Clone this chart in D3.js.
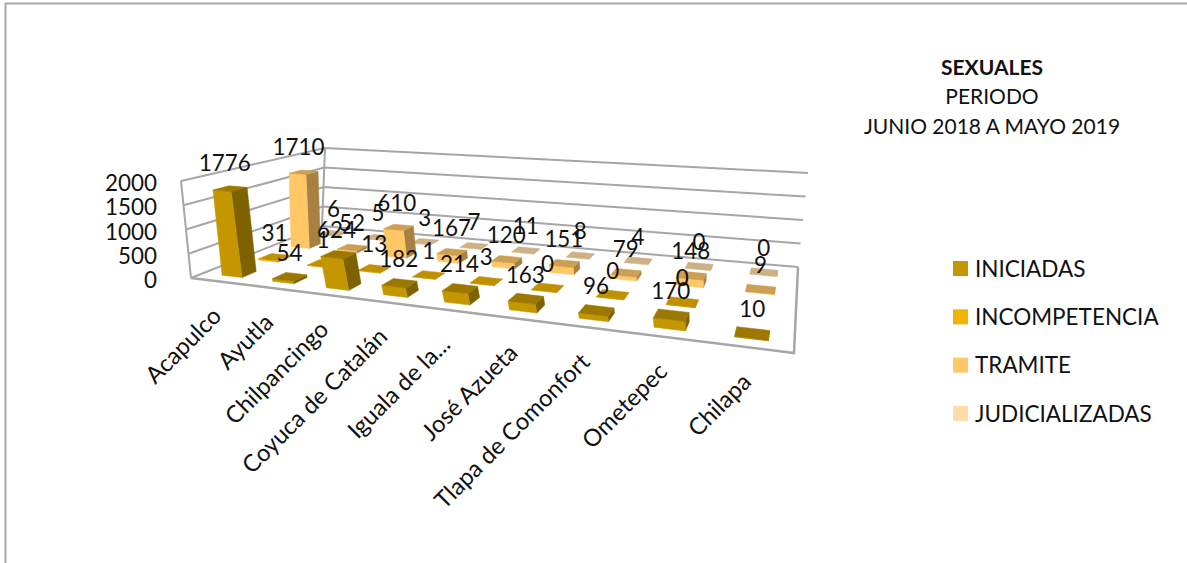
<!DOCTYPE html>
<html><head><meta charset="utf-8">
<script src="https://cdn.jsdelivr.net/npm/d3@7/dist/d3.min.js"></script>
<style>html,body{margin:0;padding:0;background:#fff}svg{display:block}text{font-family:Lato,"Open Sans",sans-serif;fill:#111}</style>
</head><body><svg id="c" width="1187" height="563"></svg>
<script>
const categories=["Acapulco","Ayutla","Chilpancingo","Coyuca de Catalán","Iguala de la...","José Azueta","Tlapa de Comonfort","Ometepec","Chilapa"];
const seriesNames=["INICIADAS","INCOMPETENCIA","TRAMITE","JUDICIALIZADAS"];
const iniciadas=[1776,54,624,182,214,163,96,170,10];
const incompetencia=[31,1,13,1,3,0,0,0,null];
const tramite=[1710,52,610,167,120,151,79,148,9];
const judicializadas=[6,5,3,7,11,8,4,0,0];
const seriesValues=[iniciadas,incompetencia,tramite,judicializadas];
const colors=["#C49600","#F0B400","#FFC766","#FFDCA8"];
const titleLines=["SEXUALES","PERIODO","JUNIO 2018 A MAYO 2019"];

const svg=d3.select("#c");
function homography(q){const [[x0,y0],[x1,y1],[x2,y2],[x3,y3]]=q;
 const dx1=x1-x2,dx2=x3-x2,sx=x0-x1+x2-x3,dy1=y1-y2,dy2=y3-y2,sy=y0-y1+y2-y3,det=dx1*dy2-dx2*dy1;
 const g=(sx*dy2-dx2*sy)/det,h=(dx1*sy-sx*dy1)/det;
 const a=x1-x0+g*x1,b=x3-x0+h*x3,d=y1-y0+g*y1,e=y3-y0+h*y3;
 return (u,v)=>{const w=g*u+h*v+1;return [(a*u+b*v+x0)/w,(d*u+e*v+y0)/w];};}
const floorH=homography([[191,278],[794,353],[798,267],[322,226]]);
const topH=homography([[181,181],[811,238],[808,173],[325,148]]);
const P=(u,v,z)=>{const f=floorH(u,v),t=topH(u,v);return [f[0]+(t[0]-f[0])*z,f[1]+(t[1]-f[1])*z];};

const uScale=d3.scaleBand().domain(categories).range([0.009,1]).paddingInner(0.6).paddingOuter(0.3);
const vScale=d3.scaleBand().domain(seriesNames).range([0,1]).paddingInner(0.62).paddingOuter(0.31);
const zScale=d3.scaleLinear().domain([0,2000]).range([0,1]);
const line=d3.line();
const shade=(c,k)=>{const r=d3.rgb(c);return d3.rgb(r.r*k,r.g*k,r.b*k).formatHex();};

// chart frame
svg.append("path").attr("d","M5.5,563V3.5H1187").attr("fill","none").attr("stroke","#a9a9a9").attr("stroke-width",2);

// walls
const ticks=zScale.ticks(4);
const gridCol="#a6a6a6";
svg.append("g").selectAll("path").data(ticks).join("path")
 .attr("d",t=>{const z=zScale(t);return line([P(0,0,z),P(0,1,z),P(1,1,z)]);})
 .attr("fill","none").attr("stroke",gridCol).attr("stroke-width",2);
svg.append("path").attr("d",line([P(0,0,0),P(0,0,1)])).attr("stroke",gridCol).attr("stroke-width",2).attr("fill","none");
svg.append("path").attr("d",line([P(0,1,0),P(0,1,1)])).attr("stroke",gridCol).attr("stroke-width",2).attr("fill","none");
svg.append("path").attr("d",line([P(0,0,0),P(1,0,0),P(1,1,0)])).attr("stroke",gridCol).attr("stroke-width",2.5).attr("fill","none");

// bars, back to front
const cells=[];
seriesNames.forEach((s,si)=>categories.forEach((c,ci)=>{
 const val=seriesValues[si][ci];
 if(val!==null)cells.push({s,c,si,ci,val});
}));
cells.sort((a,b)=>b.si-a.si||a.ci-b.ci);
const bars=svg.append("g").selectAll("g").data(cells).join("g");
bars.each(function(d){
 const g=d3.select(this),u0=uScale(d.c),u1=u0+uScale.bandwidth(),v0=vScale(d.s),v1=v0+vScale.bandwidth(),z=zScale(d.val),col=colors[d.si];
 const face=(pts,fill)=>g.append("path").attr("d",line(pts)+"Z").attr("fill",fill).attr("stroke",fill).attr("stroke-width",0.5);
 face([P(u1,v0,0),P(u1,v1,0),P(u1,v1,z),P(u1,v0,z)],shade(col,0.65));
 face([P(u0,v0,0),P(u1,v0,0),P(u1,v0,z),P(u0,v0,z)],col);
 face([P(u0,v0,z),P(u1,v0,z),P(u1,v1,z),P(u0,v1,z)],shade(col,0.8));
});

// y axis labels
svg.append("g").selectAll("text").data(ticks).join("text")
 .attr("x",157).attr("y",t=>P(0,0,zScale(t))[1]+10)
 .attr("text-anchor","end").attr("font-size",22.4).text(d=>d);

// category labels
svg.append("g").selectAll("text").data(categories).join("text")
 .attr("transform",c=>{const p=P(uScale(c)+uScale.bandwidth()/2,0,0);return `translate(${p[0]+3},${p[1]+36}) rotate(-45)`;})
 .attr("text-anchor","end").attr("font-size",23.7).text(d=>d);

// value labels
const labelAt=d=>P(uScale(d.c)+uScale.bandwidth()/2,vScale(d.s)+vScale.bandwidth()/2,zScale(d.val));
svg.append("g").selectAll("text").data(cells).join("text")
 .attr("x",d=>labelAt(d)[0]-6*zScale(d.val))
 .attr("y",d=>labelAt(d)[1]-16-2*zScale(d.val))
 .attr("text-anchor","middle").attr("font-size",22.4).text(d=>d.val);

// title
svg.append("g").selectAll("text").data(titleLines).join("text")
 .attr("x",992).attr("y",(d,i)=>[75,104,134][i]).attr("text-anchor","middle")
 .attr("font-size",21).attr("font-weight",(d,i)=>i===0?700:400).text(d=>d);

// legend
const legendY=d3.scalePoint().domain(seriesNames).range([268.5,413.5]);
const lg=svg.append("g").selectAll("g").data(seriesNames).join("g").attr("transform",s=>`translate(953,${legendY(s)})`);
lg.append("rect").attr("x",0).attr("y",-7.5).attr("width",15).attr("height",15).attr("fill",(s,i)=>colors[i]);
lg.append("text").attr("x",22).attr("y",8).attr("font-size",22.5).text(d=>d);
</script></body></html>
